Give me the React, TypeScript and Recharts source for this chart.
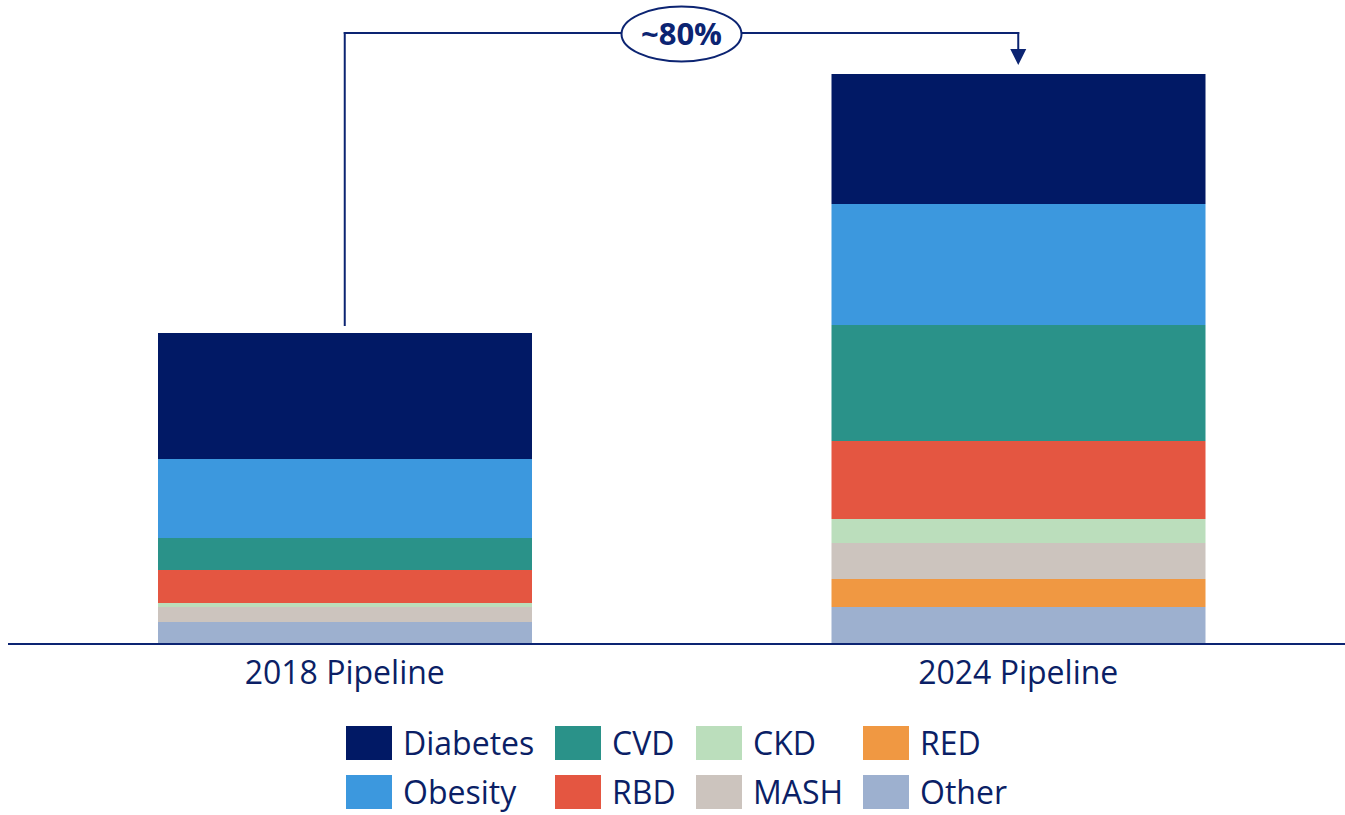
import React from 'react';
import { BarChart, Bar, XAxis, YAxis, Legend, ReferenceLine, ReferenceDot } from 'recharts';

// Pipeline composition by therapeutic area, stacked bottom to top
const categories = ['2018 Pipeline', '2024 Pipeline'];
const other = [22, 37];
const red = [0, 28];
const mash = [15, 36];
const ckd = [4, 24];
const rbd = [33, 78];
const cvd = [32, 116];
const obesity = [79, 121];
const diabetes = [126, 130];

const stackOrder = ['Other', 'RED', 'MASH', 'CKD', 'RBD', 'CVD', 'Obesity', 'Diabetes'];
const seriesValues: Record<string, number[]> = {
  Other: other,
  RED: red,
  MASH: mash,
  CKD: ckd,
  RBD: rbd,
  CVD: cvd,
  Obesity: obesity,
  Diabetes: diabetes,
};
const seriesColors: Record<string, string> = {
  Diabetes: '#011965',
  Obesity: '#3c98de',
  CVD: '#2a9289',
  RBD: '#e45641',
  CKD: '#bbdebc',
  MASH: '#ccc4be',
  RED: '#f09842',
  Other: '#9db0cf',
};
const legendRows = [
  ['Diabetes', 'CVD', 'CKD', 'RED'],
  ['Obesity', 'RBD', 'MASH', 'Other'],
];

const growthLabel = '~80%';
const yMax = 570;
const connectorLevel = 611; // horizontal run of the growth connector
const connectorGap = 8; // gap above the 2018 bar
const arrowGap = 9; // gap between arrow tip and the 2024 bar
const arrowSize = 16;

const NAVY = '#0c2472';
const TEXT = '#0b1f66';
const FONT = '"Open Sans", "Noto Sans", sans-serif';

const data = categories.map((name, i) => {
  const row: Record<string, string | number> = { name };
  stackOrder.forEach((k) => {
    row[k] = seriesValues[k][i];
  });
  return row;
});
const totals = categories.map((_, i) => stackOrder.reduce((s, k) => s + seriesValues[k][i], 0));

const CategoryTick = (props: any) => {
  const { x, y, payload } = props;
  return (
    <text x={x} y={y + 40} textAnchor="middle" fill={TEXT} fontSize={32} fontFamily={FONT}>
      {payload.value}
    </text>
  );
};

const GrowthBadge = (props: any) => {
  const vb = props.viewBox || {};
  const cx = vb.width !== undefined ? vb.x + vb.width / 2 : (vb.x1 + vb.x2) / 2;
  const cy = vb.y !== undefined ? vb.y : vb.y1;
  return (
    <g>
      <ellipse cx={cx} cy={cy + 1} rx={60} ry={27.5} fill="#ffffff" stroke={NAVY} strokeWidth={2} />
      <text
        x={cx}
        y={cy + 1}
        dy="0.36em"
        textAnchor="middle"
        fill={NAVY}
        fontSize={31}
        fontWeight={700}
        fontFamily={FONT}
      >
        {growthLabel}
      </text>
    </g>
  );
};

const ArrowHead = (props: any) => {
  const { cx, cy } = props;
  const h = arrowSize / 2;
  return <polygon points={`${cx - h},${cy - h} ${cx + h},${cy - h} ${cx},${cy + h}`} fill={NAVY} />;
};

const LegendGrid = () => (
  <div
    style={{
      display: 'grid',
      gridTemplateColumns: '209px 141px 167px auto',
      rowGap: 15,
      fontFamily: FONT,
      fontSize: 32,
      color: TEXT,
    }}
  >
    {legendRows.flat().map((name) => (
      <div key={name} style={{ display: 'flex', alignItems: 'center', height: 34 }}>
        <span
          style={{
            display: 'inline-block',
            width: 46,
            height: 34,
            background: seriesColors[name],
            marginRight: 11,
            flexShrink: 0,
          }}
        />
        <span style={{ lineHeight: '34px', whiteSpace: 'nowrap' }}>{name}</span>
      </div>
    ))}
  </div>
);

export default function App() {
  return (
    <>
      <style>{'html, body { margin: 0; padding: 0; overflow: hidden; }'}</style>
      <div style={{ width: 1345, height: 815, overflow: 'hidden', position: 'relative' }}>
        <BarChart
          width={1355}
          height={815}
          data={data}
          margin={{ top: 74, right: 0, bottom: 131, left: 8 }}
        >
          <XAxis
            dataKey="name"
            axisLine={{ stroke: NAVY, strokeWidth: 2 }}
            tickLine={false}
            tickSize={0}
            tickMargin={0}
            height={40}
            interval={0}
            tick={<CategoryTick />}
          />
          <YAxis hide domain={[0, yMax]} />
          {stackOrder.map((k) => (
            <Bar key={k} dataKey={k} stackId="pipeline" fill={seriesColors[k]} barSize={374} isAnimationActive={false} />
          ))}
          <ReferenceLine
            segment={[
              { x: categories[0], y: totals[0] + connectorGap },
              { x: categories[0], y: connectorLevel },
            ]}
            stroke={NAVY}
            strokeWidth={2}
            strokeLinecap="square"
            ifOverflow="visible"
          />
          <ReferenceLine
            segment={[
              { x: categories[0], y: connectorLevel },
              { x: categories[1], y: connectorLevel },
            ]}
            stroke={NAVY}
            strokeWidth={2}
            strokeLinecap="square"
            ifOverflow="visible"
            label={GrowthBadge}
          />
          <ReferenceLine
            segment={[
              { x: categories[1], y: connectorLevel },
              { x: categories[1], y: totals[1] + arrowGap + arrowSize },
            ]}
            stroke={NAVY}
            strokeWidth={2}
            strokeLinecap="square"
            ifOverflow="visible"
          />
          <ReferenceDot
            x={categories[1]}
            y={totals[1] + arrowGap + arrowSize / 2}
            ifOverflow="visible"
            shape={ArrowHead}
          />
          <Legend
            layout="horizontal"
            align="center"
            verticalAlign="middle"
            content={() => <LegendGrid />}
            wrapperStyle={{ position: 'absolute', left: 346, top: 726, width: 'auto', height: 'auto' }}
          />
        </BarChart>
      </div>
    </>
  );
}
